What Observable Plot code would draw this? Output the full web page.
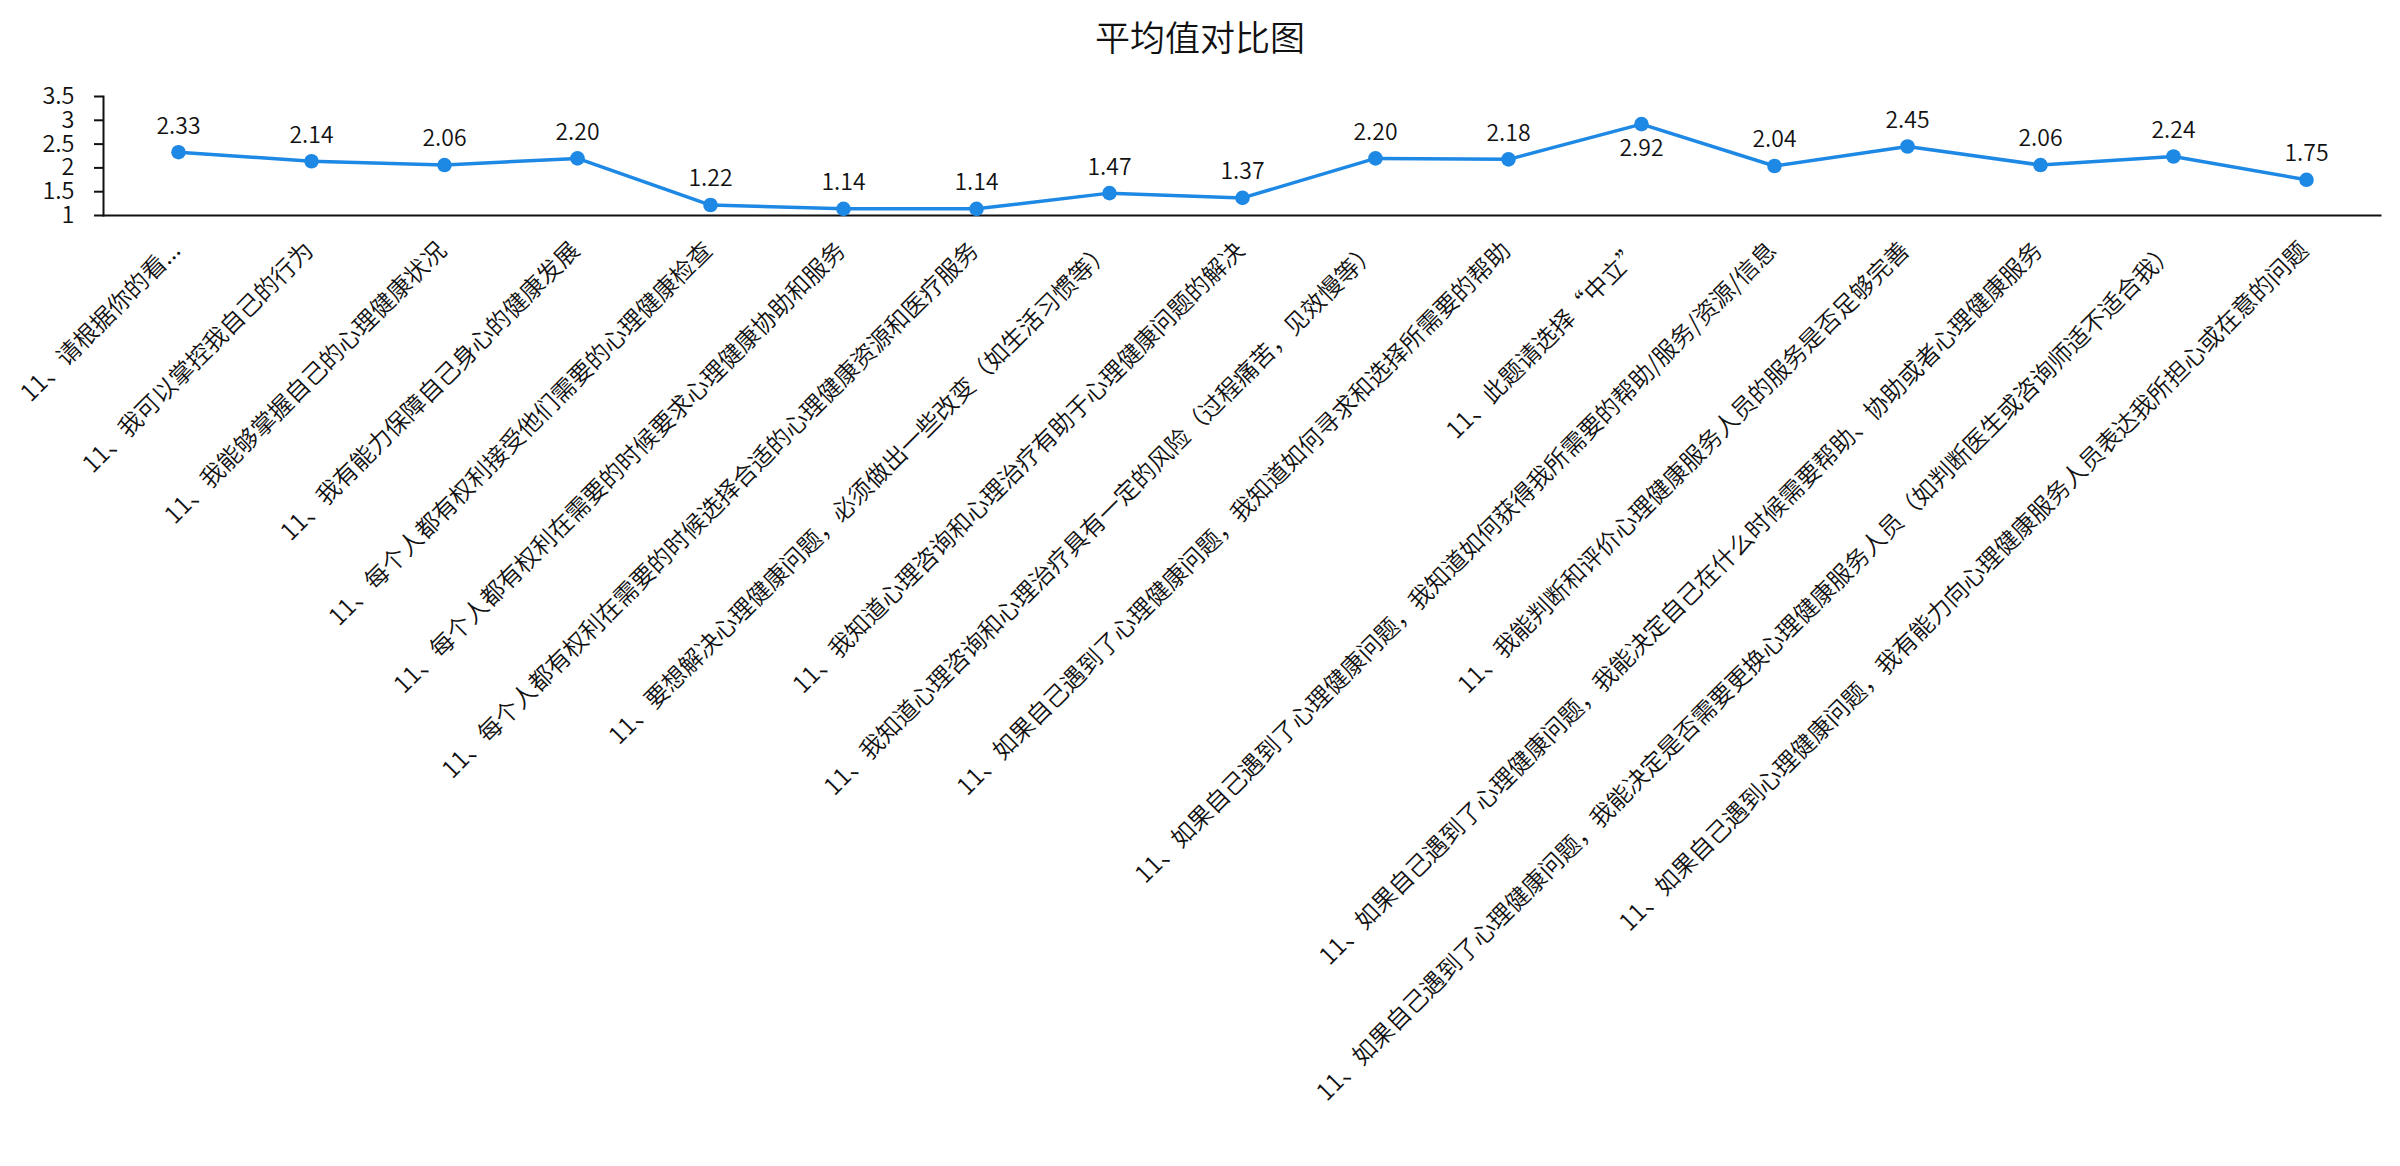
<!DOCTYPE html>
<html>
<head>
<meta charset="utf-8">
<script src="https://cdn.jsdelivr.net/npm/d3@7"></script>
<script src="https://cdn.jsdelivr.net/npm/@observablehq/plot@0.6"></script>
<style>
  html, body { margin: 0; padding: 0; background: #fff; }
  body { width: 2400px; height: 1166px; overflow: hidden; font-family: "Noto Sans CJK SC", "Noto Sans", sans-serif; }
  #title { height: 72px; line-height: 72px; text-align: center; font-size: 35px; color: #111; font-weight: 350; }
  svg { display: block; overflow: visible; }
  svg text { font-weight: 350; }
</style>
</head>
<body>
<div id="title">平均值对比图</div>
<div id="chart"></div>
<script>
const categories = [
  "11、请根据你的看...",
  "11、我可以掌控我自己的行为",
  "11、我能够掌握自己的心理健康状况",
  "11、我有能力保障自己身心的健康发展",
  "11、每个人都有权利接受他们需要的心理健康检查",
  "11、每个人都有权利在需要的时候要求心理健康协助和服务",
  "11、每个人都有权利在需要的时候选择合适的心理健康资源和医疗服务",
  "11、要想解决心理健康问题，必须做出一些改变（如生活习惯等）",
  "11、我知道心理咨询和心理治疗有助于心理健康问题的解决",
  "11、我知道心理咨询和心理治疗具有一定的风险（过程痛苦，见效慢等）",
  "11、如果自己遇到了心理健康问题，我知道如何寻求和选择所需要的帮助",
  "11、此题请选择“中立”",
  "11、如果自己遇到了心理健康问题，我知道如何获得我所需要的帮助/服务/资源/信息",
  "11、我能判断和评价心理健康服务人员的服务是否足够完善",
  "11、如果自己遇到了心理健康问题，我能决定自己在什么时候需要帮助、协助或者心理健康服务",
  "11、如果自己遇到了心理健康问题，我能决定是否需要更换心理健康服务人员（如判断医生或咨询师适不适合我）",
  "11、如果自己遇到心理健康问题，我有能力向心理健康服务人员表达我所担心或在意的问题"
];
const means = [2.33, 2.14, 2.06, 2.20, 1.22, 1.14, 1.14, 1.47, 1.37, 2.20, 2.18, 2.92, 2.04, 2.45, 2.06, 2.24, 1.75];
const yTicks = [1, 1.5, 2, 2.5, 3, 3.5];
const yTickLabels = ["1", "1.5", "2", "2.5", "3", "3.5"];

const data = categories.map((c, i) => ({category: c, value: means[i]}));
const above = data.filter(d => d.value < 2.8);
const below = data.filter(d => d.value >= 2.8);

const blue = "#1e88e5";
const ink = "#111";

const chart = Plot.plot({
  width: 2400,
  height: 1094,
  marginTop: 24,
  marginBottom: 951,
  marginLeft: 103,
  marginRight: 20,
  style: {fontFamily: "'Noto Sans CJK SC', 'Noto Sans', sans-serif", color: ink, background: "#fff"},
  x: {type: "point", domain: categories, padding: 0.5},
  y: {domain: [1, 3.5]},
  marks: [
    Plot.axisY({
      ticks: yTicks,
      tickFormat: (d) => yTickLabels[yTicks.indexOf(d)],
      tickSize: 9,
      tickPadding: 20,
      strokeWidth: 2,
      fontSize: 23.5,
      label: null
    }),
    Plot.frame({anchor: "left", stroke: ink, strokeWidth: 2}),
    Plot.frame({anchor: "bottom", stroke: ink, strokeWidth: 2}),
    Plot.axisX({
      tickSize: 0,
      tickRotate: -45,
      textAnchor: "end",
      lineAnchor: "middle",
      tickPadding: 31,
      dx: -2,
      fontSize: 24,
      label: null
    }),
    Plot.line(data, {x: "category", y: "value", stroke: blue, strokeWidth: 3.5}),
    Plot.dot(data, {x: "category", y: "value", r: 7.3, fill: blue, stroke: "none"}),
    Plot.text(above, {x: "category", y: "value", text: d => d.value.toFixed(2), dy: -26, lineAnchor: "middle", fontSize: 23, fill: ink}),
    Plot.text(below, {x: "category", y: "value", text: d => d.value.toFixed(2), dy: 25, lineAnchor: "middle", fontSize: 23, fill: ink})
  ]
});
document.getElementById("chart").appendChild(chart);
</script>
</body>
</html>
